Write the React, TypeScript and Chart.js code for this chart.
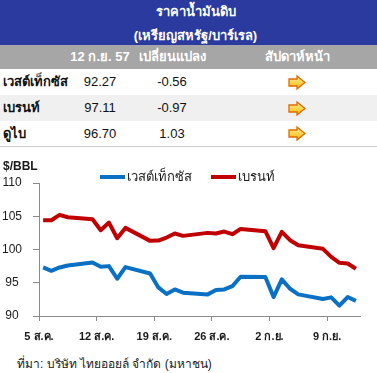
import React, { useEffect, useRef } from "react";
import { Chart, registerables } from "chart.js";

Chart.register(...registerables);

const FONT = "Tahoma, 'Liberation Sans', Arial, sans-serif";

// ---- chart data ----
// trading days, as day offsets from 5 Aug (5 ส.ค.)
const dayOffsets = [0, 1, 2, 3, 6, 7, 8, 9, 10, 13, 14, 15, 16, 17, 20, 21, 22, 23, 24, 27, 28, 29, 30, 31, 34, 35, 36, 37, 38];
const wtiValues = [97.3, 96.8, 97.3, 97.6, 98.05, 97.4, 97.5, 95.6, 97.35, 96.4, 94.3, 93.3, 94.0, 93.5, 93.25, 93.9, 94.0, 94.5, 95.9, 95.85, 92.85, 95.5, 94.1, 93.25, 92.55, 92.8, 91.55, 92.85, 92.27];
const brentValues = [104.4, 104.4, 105.2, 104.85, 104.55, 102.9, 104.05, 101.7, 103.25, 101.3, 101.35, 101.8, 102.4, 102.05, 102.5, 102.4, 102.7, 102.3, 103.1, 102.75, 100.2, 102.65, 101.4, 100.65, 100.1, 98.9, 98.0, 97.9, 97.11];
const seriesNames = ["เวสต์เท็กซัส", "เบรนท์"];
const seriesColors = ["#0A70C4", "#C00000"];
const xTickLabels = ["5 ส.ค.", "12 ส.ค.", "19 ส.ค.", "26 ส.ค.", "2 ก.ย.", "9 ก.ย."];
const yTicks = [90, 95, 100, 105, 110];
const unitLabel = "$/BBL";

// ---- table data ----
const tableTitle = "ราคาน้ำมันดิบ";
const tableSubtitle = "(เหรียญสหรัฐ/บาร์เรล)";
const tableHeaders = ["12 ก.ย. 57", "เปลี่ยนแปลง", "สัปดาห์หน้า"];
const tableNames = ["เวสต์เท็กซัส", "เบรนท์", "ดูไบ"];
const tablePrices = ["92.27", "97.11", "96.70"];
const tableChanges = ["-0.56", "-0.97", "1.03"];
const sourceText = "ที่มา: บริษัท ไทยออยล์ จำกัด (มหาชน)";

const headerPlugin = {
  id: "headerLegend",
  afterDraw(chart: any) {
    const ctx = chart.ctx;
    ctx.save();
    ctx.textBaseline = "middle";
    ctx.textAlign = "left";
    ctx.fillStyle = "#1a1a1a";
    ctx.font = `bold 12px ${FONT}`;
    ctx.fillText(unitLabel, 3, 17);
    ctx.font = `13px ${FONT}`;
    let x = 100;
    chart.data.datasets.forEach((ds: any) => {
      ctx.strokeStyle = ds.borderColor;
      ctx.lineWidth = 4;
      ctx.beginPath();
      ctx.moveTo(x, 27);
      ctx.lineTo(x + 25, 27);
      ctx.stroke();
      x += 27;
      ctx.fillStyle = "#1a1a1a";
      ctx.fillText(ds.label, x, 27);
      x += ctx.measureText(ds.label).width + 19;
    });
    ctx.restore();
  },
};

function Arrow() {
  return (
    <svg width="18" height="15" viewBox="0 0 18 15">
      <defs>
        <linearGradient id="ag" x1="0" y1="0" x2="0" y2="1">
          <stop offset="0" stopColor="#FFF2A0" />
          <stop offset="1" stopColor="#F7B500" />
        </linearGradient>
      </defs>
      <polygon points="1,4 9,4 9,1 17,7.5 9,14 9,11 1,11" fill="url(#ag)" stroke="#E06A00" strokeWidth="1.3" strokeLinejoin="miter" />
    </svg>
  );
}

export default function App() {
  const canvasRef = useRef<HTMLCanvasElement | null>(null);

  useEffect(() => {
    if (!canvasRef.current) return;
    const mk = (vals: number[]) => dayOffsets.map((d, i) => ({ x: d + 0.5, y: vals[i] }));
    const chart = new Chart(canvasRef.current, {
      type: "line",
      data: {
        datasets: [
          { label: seriesNames[0], data: mk(wtiValues), borderColor: seriesColors[0], backgroundColor: seriesColors[0], borderWidth: 4, pointRadius: 0, tension: 0, borderJoinStyle: "round" },
          { label: seriesNames[1], data: mk(brentValues), borderColor: seriesColors[1], backgroundColor: seriesColors[1], borderWidth: 4, pointRadius: 0, tension: 0, borderJoinStyle: "round" },
        ],
      },
      options: {
        responsive: false,
        animation: false,
        devicePixelRatio: 1,
        layout: { padding: { top: 33, right: 17, left: 0, bottom: 0 } },
        plugins: { legend: { display: false }, tooltip: { enabled: false }, title: { display: false } },
        scales: {
          x: {
            type: "linear",
            min: 0,
            max: 39,
            afterFit: (s: any) => { s.height = 29; },
            grid: { display: true, drawOnChartArea: false, drawTicks: true, tickLength: 5, color: "#8a8a8a", lineWidth: 1 },
            border: { display: true, color: "#8a8a8a", width: 1 },
            ticks: {
              stepSize: 7,
              includeBounds: false,
              autoSkip: false,
              maxRotation: 0,
              padding: 9,
              color: "#1a1a1a",
              font: { family: FONT, size: 11, weight: "bold" },
              callback: (v: any) => (v % 7 === 0 ? xTickLabels[v / 7] ?? "" : ""),
            },
          },
          y: {
            min: yTicks[0],
            max: yTicks[yTicks.length - 1],
            afterFit: (s: any) => { s.width = 39; },
            afterBuildTicks: (s: any) => { s.ticks = yTicks.map((v) => ({ value: v })); },
            grid: { display: true, drawOnChartArea: false, drawTicks: true, tickLength: 6, color: "#8a8a8a", lineWidth: 1 },
            border: { display: true, color: "#8a8a8a", width: 1 },
            ticks: {
              crossAlign: "center",
              padding: 11,
              color: "#1a1a1a",
              font: { family: FONT, size: 12 },
            },
          },
        },
      },
      plugins: [headerPlugin],
    } as any);
    return () => chart.destroy();
  }, []);

  const colCenters = [100, 172, 297];
  const rowTops = [69, 95, 121];
  const rowHeights = [26, 26, 25];
  const rowBg = ["#FFFFFF", "#F0F0F0", "#FFFFFF"];

  return (
    <div style={{ position: "absolute", left: 0, top: 0, width: 377, height: 373, background: "#fff", fontFamily: FONT, overflow: "hidden" }}>
      <div style={{ position: "absolute", left: 0, top: 0, width: 377, height: 45, background: "#2A3A9F" }} />
      <div style={{ position: "absolute", left: 7, top: 2, width: 377, height: 20, lineHeight: "20px", textAlign: "center", color: "#fff", fontWeight: "bold", fontSize: 13 }}>{tableTitle}</div>
      <div style={{ position: "absolute", left: 7, top: 26, width: 377, height: 20, lineHeight: "20px", textAlign: "center", color: "#fff", fontWeight: "bold", fontSize: 13 }}>{tableSubtitle}</div>
      <div style={{ position: "absolute", left: 0, top: 45, width: 377, height: 24, background: "#A6A6A6" }} />
      {tableHeaders.map((h, i) => (
        <div key={h} style={{ position: "absolute", left: colCenters[i] - 60, top: 45, width: 120, height: 24, lineHeight: "24px", textAlign: "center", color: "#fff", fontWeight: "bold", fontSize: 13 }}>{h}</div>
      ))}
      {tableNames.map((n, r) => (
        <React.Fragment key={n}>
          <div style={{ position: "absolute", left: 0, top: rowTops[r], width: 377, height: rowHeights[r], background: rowBg[r] }} />
          <div style={{ position: "absolute", left: 3, top: rowTops[r], height: rowHeights[r], lineHeight: rowHeights[r] + "px", color: "#111", fontWeight: "bold", fontSize: 13 }}>{n}</div>
          <div style={{ position: "absolute", left: colCenters[0] - 40, top: rowTops[r], width: 80, height: rowHeights[r], lineHeight: rowHeights[r] + "px", textAlign: "center", color: "#111", fontSize: 13 }}>{tablePrices[r]}</div>
          <div style={{ position: "absolute", left: colCenters[1] - 40, top: rowTops[r], width: 80, height: rowHeights[r], lineHeight: rowHeights[r] + "px", textAlign: "center", color: "#111", fontSize: 13 }}>{tableChanges[r]}</div>
          <div style={{ position: "absolute", left: colCenters[2] - 9, top: rowTops[r] + (rowHeights[r] - 15) / 2, width: 18, height: 15 }}><Arrow /></div>
        </React.Fragment>
      ))}
      <div style={{ position: "absolute", left: 0, top: 146, width: 377, height: 1, background: "#CFCFCF" }} />
      <div style={{ position: "absolute", left: 0, top: 150, width: 377, height: 195 }}>
        <canvas ref={canvasRef} width={377} height={195} style={{ display: "block", width: 377, height: 195 }} />
      </div>
      <div style={{ position: "absolute", left: 17, top: 355, height: 18, lineHeight: "18px", color: "#1a1a1a", fontSize: 12 }}>{sourceText}</div>
    </div>
  );
}
